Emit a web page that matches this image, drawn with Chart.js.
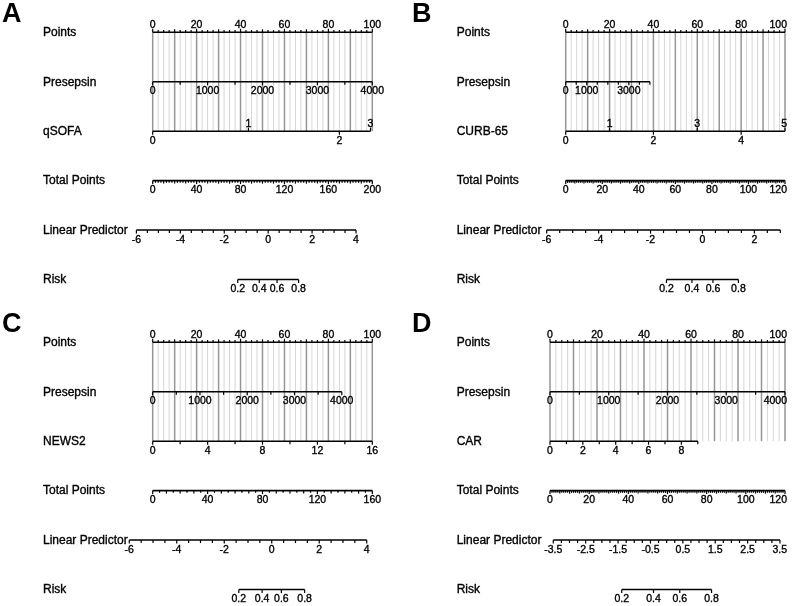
<!DOCTYPE html>
<html>
<head>
<meta charset="utf-8">
<script src="https://cdn.jsdelivr.net/npm/chart.js@4.4.1/dist/chart.umd.min.js"></script>
<style>
  body { margin: 0; background: #fff; width: 798px; height: 606px; position: relative; overflow: hidden; }
  canvas { position: absolute; }
</style>
</head>
<body>
<canvas id="panelA" width="400" height="303" style="left:0;top:0"></canvas>
<canvas id="panelB" width="388" height="303" style="left:410px;top:0"></canvas>
<canvas id="panelC" width="400" height="296" style="left:0;top:310px"></canvas>
<canvas id="panelD" width="388" height="296" style="left:410px;top:310px"></canvas>
<script>
// ==================== DONNEES ====================
const pointsLabels = [0, 20, 40, 60, 80, 100];
const riskLabels = [0.2, 0.4, 0.6, 0.8];

// A - Presepsin + qSOFA
const aNames = ['Points', 'Presepsin', 'qSOFA', 'Total Points', 'Linear Predictor', 'Risk'];
const aPresepsinLabels = [0, 1000, 2000, 3000, 4000];
const aQsofaValues = [0, 1, 2, 3];
const aQsofaPoints = [0, 43.6, 85.0, 99.2];
const aTotalLabels = [0, 40, 80, 120, 160, 200];
const aLpLabels = [-6, -4, -2, 0, 2, 4];
const aLpPoints = [-7.42, 92.58];      // -6 .. 4 sur l'echelle Points

// B - Presepsin + CURB-65
const bNames = ['Points', 'Presepsin', 'CURB-65', 'Total Points', 'Linear Predictor', 'Risk'];
const bPresepsinLabels = [0, 1000, 3000];
const bPresepsinPoints = [0, 38.4];    // 0 .. 4000
const bCurbValues = [0, 1, 2, 3, 4, 5];
const bTotalLabels = [0, 20, 40, 60, 80, 100, 120];
const bLpLabels = [-6, -4, -2, 0, 2];
const bLpPoints = [-8.66, 97.86];      // -6 .. 3

// C - Presepsin + NEWS2
const cNames = ['Points', 'Presepsin', 'NEWS2', 'Total Points', 'Linear Predictor', 'Risk'];
const cPresepsinLabels = [0, 1000, 2000, 3000, 4000];
const cPresepsinPoints = [0, 86.1];    // 0 .. 4000
const cNewsLabels = [0, 4, 8, 12, 16];
const cTotalLabels = [0, 40, 80, 120, 160];
const cLpLabels = [-6, -4, -2, 0, 2, 4];
const cLpPoints = [-10.66, 97.45];     // -6 .. 4

// D - Presepsin + CAR
const dNames = ['Points', 'Presepsin', 'CAR', 'Total Points', 'Linear Predictor', 'Risk'];
const dPresepsinLabels = [0, 1000, 2000, 3000, 4000];
const dCarLabels = [0, 2, 4, 6, 8];
const dCarPoints = [0, 62.9];          // 0 .. 9
const dTotalLabels = [0, 20, 40, 60, 80, 100, 120];
const dLpLabels = [-3.5, -2.5, -1.5, -0.5, 0.5, 1.5, 2.5, 3.5];
const dLpPoints = [1.40, 97.87];       // -3.5 .. 3.5

// ==================== STYLE ====================
const rowTop = 32.3;
const rowGap = 49.44;
const tickFont = "10.5px 'Liberation Sans', Arial, sans-serif";
const nameFont = "12px 'Liberation Sans', Arial, sans-serif";
const letterFont = "bold 27px 'Liberation Sans', Arial, sans-serif";
const gridMajor = '#969696';
const gridMinor = '#d6d6d6';

function pointsRow() {
    return { min: 0, max: 100, p0: 0, p1: 100, step: 2.5, mid: 10, labels: pointsLabels, above: true };
}
function linRow(min, max, p0, p1, step, labels, extra) {
    return Object.assign({ min, max, p0, p1, step, labels }, extra || {});
}
function riskRow() {
    return { risk: true, labels: riskLabels };
}

const panels = {
    panelA: {
        letter: 'A', names: aNames, zeroPx: 152.7, pxPerPoint: 2.196, nameX: 43,
        rows: [
            pointsRow(),
            linRow(0, 4000, 0, 100, 500, aPresepsinLabels),
            { values: aQsofaValues, points: aQsofaPoints, labels: aQsofaValues, alternate: true },
            linRow(0, 200, 0, 100, 2.5, aTotalLabels, { mid: 10 }),
            linRow(-6, 4, aLpPoints[0], aLpPoints[1], 0.5, aLpLabels),
            riskRow()
        ]
    },
    panelB: {
        letter: 'B', names: bNames, zeroPx: 155.7, pxPerPoint: 2.193, nameX: 46.7,
        rows: [
            pointsRow(),
            linRow(0, 4000, bPresepsinPoints[0], bPresepsinPoints[1], 500, bPresepsinLabels),
            linRow(0, 5, 0, 100, 1, bCurbValues, { alternate: true }),
            linRow(0, 120, 0, 100, 1, bTotalLabels, { mid: 5 }),
            linRow(-6, 3, bLpPoints[0], bLpPoints[1], 0.5, bLpLabels),
            riskRow()
        ]
    },
    panelC: {
        letter: 'C', names: cNames, zeroPx: 152.7, pxPerPoint: 2.196, nameX: 43,
        rows: [
            pointsRow(),
            linRow(0, 4000, cPresepsinPoints[0], cPresepsinPoints[1], 500, cPresepsinLabels),
            linRow(0, 16, 0, 100, 2, cNewsLabels),
            linRow(0, 160, 0, 100, 5, cTotalLabels, { mid: 10 }),
            linRow(-6, 4, cLpPoints[0], cLpPoints[1], 0.5, cLpLabels),
            riskRow()
        ]
    },
    panelD: {
        letter: 'D', names: dNames, zeroPx: 140, pxPerPoint: 2.35, nameX: 46.7,
        rows: [
            pointsRow(),
            linRow(0, 4000, 0, 100, 500, dPresepsinLabels),
            linRow(0, 9, dCarPoints[0], dCarPoints[1], 1, dCarLabels),
            linRow(0, 120, 0, 100, 1, dTotalLabels, { mid: 5 }),
            linRow(-3.5, 3.5, dLpPoints[0], dLpPoints[1], 0.25, dLpLabels),
            riskRow()
        ]
    }
};

// ==================== ECHELLES ====================
function isMultiple(v, s) {
    return Math.abs(v / s - Math.round(v / s)) < 1e-6;
}

// valeur d'une ligne -> position sur l'echelle Points
function toPoints(panel, row, v) {
    if (row.risk) {
        return toPoints(panel, panel.rows[4], Math.log(v / (1 - v)));
    }
    if (row.values) {
        return row.points[row.values.indexOf(v)];
    }
    return row.p0 + (v - row.min) / (row.max - row.min) * (row.p1 - row.p0);
}

function rowEnds(panel, row) {
    if (row.risk) return [toPoints(panel, row, row.labels[0]), toPoints(panel, row, row.labels[row.labels.length - 1])];
    if (row.values) return [row.points[0], row.points[row.points.length - 1]];
    return [row.p0, row.p1];
}

function rowTicks(row) {
    if (row.risk || row.values) return row.labels.slice();
    const out = [];
    const n = Math.round((row.max - row.min) / row.step);
    for (let i = 0; i <= n; i++) out.push(row.min + i * row.step);
    return out;
}

// texte un peu plus epais, comme sur la figure d'origine
function heavyText(ctx, text, px, py) {
    ctx.fillText(text, px, py);
    ctx.lineWidth = 0.35;
    ctx.strokeText(text, px, py);
}

// ==================== PLUGIN ====================
const nomogramPlugin = {
    id: 'nomogram',
    beforeDatasetsDraw(chart) {
        const { ctx, scales: { x, y } } = chart;
        const yTop = y.getPixelForValue(0);
        const yBottom = y.getPixelForValue(2);
        ctx.save();
        for (let i = 0; i <= 40; i++) {
            const v = i * 2.5;
            const major = isMultiple(v, 10);
            const px = x.getPixelForValue(v);
            ctx.strokeStyle = major ? gridMajor : gridMinor;
            ctx.lineWidth = major ? 1.5 : 1;
            ctx.beginPath();
            ctx.moveTo(px, yTop);
            ctx.lineTo(px, yBottom);
            ctx.stroke();
        }
        ctx.restore();
    },
    afterDatasetsDraw(chart) {
        const panel = panels[chart.canvas.id];
        const { ctx, scales: { x, y } } = chart;
        const W = chart.width;
        ctx.save();
        ctx.fillStyle = '#000';
        ctx.strokeStyle = '#000';

        // lettre du panneau
        ctx.font = letterFont;
        ctx.textAlign = 'left';
        ctx.textBaseline = 'alphabetic';
        ctx.fillText(panel.letter, 2, 22);

        // noms des lignes
        ctx.font = nameFont;
        ctx.textBaseline = 'middle';
        panel.names.forEach((name, i) => {
            heavyText(ctx, name, panel.nameX, y.getPixelForValue(i) + 0.5);
        });

        // graduations et etiquettes
        ctx.font = tickFont;
        ctx.textBaseline = 'alphabetic';
        ctx.textAlign = 'center';
        panel.rows.forEach((row, i) => {
            const py = y.getPixelForValue(i);
            ctx.lineWidth = 1.2;
            rowTicks(row).forEach(v => {
                const px = x.getPixelForValue(toPoints(panel, row, v));
                const idx = row.labels.findIndex(l => Math.abs(l - v) < 1e-9);
                const labelled = idx >= 0;
                let len = labelled ? 3.5 : 2.2;
                if (!labelled && row.mid && isMultiple(v, row.mid)) len = 3;
                if (!labelled && !row.mid && !row.above) len = 3;
                let up = !!row.above;
                if (row.alternate && labelled) up = idx % 2 === 1;
                ctx.beginPath();
                ctx.moveTo(px, py);
                ctx.lineTo(px, up ? py - len : py + len);
                ctx.stroke();
            });
            row.labels.forEach((v, k) => {
                let px = x.getPixelForValue(toPoints(panel, row, v));
                const text = String(v);
                const half = ctx.measureText(text).width / 2;
                if (px + half > W - 11) px = W - 11 - half;
                const up = row.alternate ? k % 2 === 1 : !!row.above;
                heavyText(ctx, text, px, up ? py - 4 : py + 12.5);
            });
        });
        ctx.restore();
    }
};

// ==================== GRAPHIQUES ====================
function makePanel(id) {
    const panel = panels[id];
    const canvas = document.getElementById(id);
    const W = canvas.width, H = canvas.height;
    const datasets = panel.rows.map((row, i) => {
        const ends = rowEnds(panel, row);
        return {
            data: [{ x: ends[0], y: i }, { x: ends[1], y: i }],
            borderColor: '#000',
            borderWidth: 1.6,
            pointRadius: 0,
            fill: false,
            tension: 0
        };
    });
    new Chart(canvas, {
        type: 'line',
        data: { datasets },
        options: {
            responsive: false,
            animation: false,
            events: [],
            layout: { padding: 0 },
            scales: {
                x: { type: 'linear', display: false,
                     min: -panel.zeroPx / panel.pxPerPoint,
                     max: (W - panel.zeroPx) / panel.pxPerPoint },
                y: { type: 'linear', display: false, reverse: true,
                     min: -rowTop / rowGap,
                     max: (H - rowTop) / rowGap }
            },
            plugins: {
                legend: { display: false },
                tooltip: { enabled: false }
            }
        },
        plugins: [nomogramPlugin]
    });
}

['panelA', 'panelB', 'panelC', 'panelD'].forEach(makePanel);
</script>
</body>
</html>
